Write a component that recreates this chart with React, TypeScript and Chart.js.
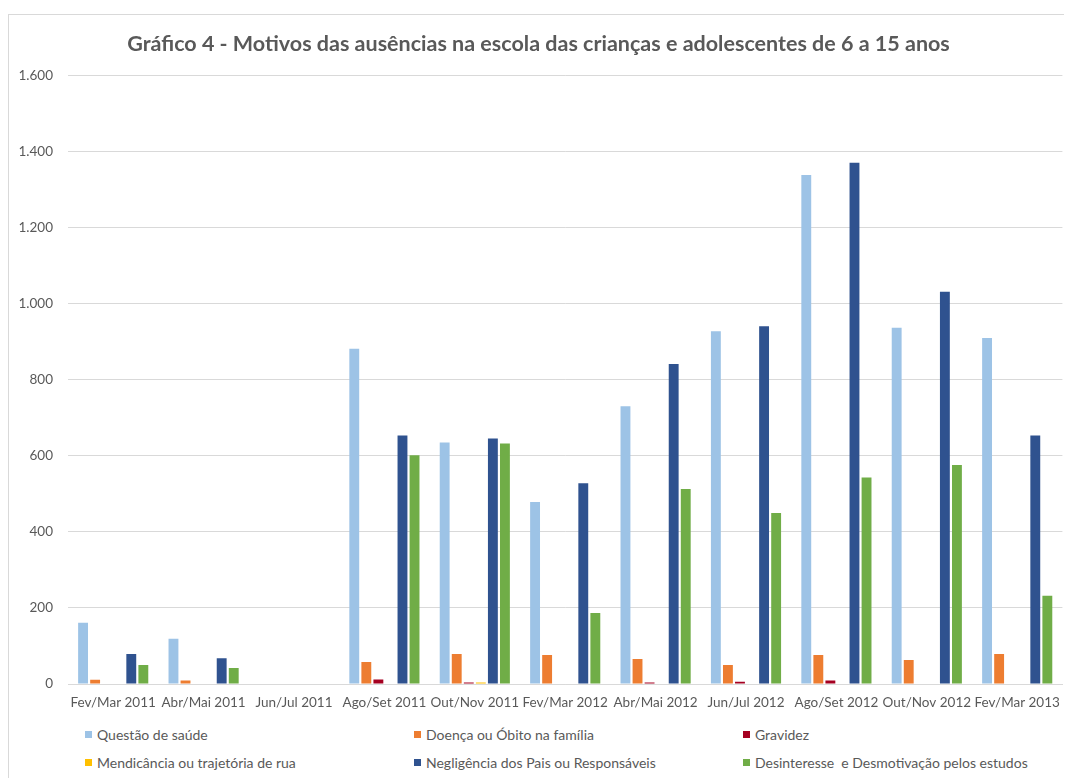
import React, { useEffect, useRef } from "react";
import { Chart, registerables } from "chart.js";

Chart.register(...registerables);

const categories = [
  "Fev/Mar 2011", "Abr/Mai 2011", "Jun/Jul 2011", "Ago/Set 2011", "Out/Nov 2011",
  "Fev/Mar 2012", "Abr/Mai 2012", "Jun/Jul 2012", "Ago/Set 2012", "Out/Nov 2012", "Fev/Mar 2013",
];

const seriesNames = [
  "Questão de saúde",
  "Doença ou Óbito na família",
  "Gravidez",
  "Mendicância ou trajetória de rua",
  "Negligência dos Pais ou Responsáveis",
  "Desinteresse  e Desmotivação pelos estudos",
];

const seriesColors = ["#9DC3E6", "#ED7D31", "#A50021", "#FFC000", "#2F528F", "#70AD47"];

const questaoSaude = [161, 119, 0, 882, 635, 479, 731, 928, 1339, 937, 910];
const doencaObito = [11, 9, 0, 58, 79, 76, 66, 50, 76, 63, 79];
const gravidez = [0, 0, 0, 12, 4, 0, 4, 6, 9, 0, 0];
const mendicancia = [0, 0, 0, 0, 4, 0, 0, 0, 0, 0, 0];
const negligencia = [79, 68, 0, 654, 646, 528, 842, 941, 1371, 1032, 654];
const desinteresse = [50, 42, 0, 602, 633, 187, 513, 450, 543, 576, 232];

const seriesValues = [questaoSaude, doencaObito, gravidez, mendicancia, negligencia, desinteresse];

const yMax = 1600;
const yStep = 200;

const FONT = "Lato, 'Open Sans', sans-serif";
const TEXT = "#595959";

function fmt(v: number): string {
  return String(Math.round(v)).replace(/\B(?=(\d{3})+(?!\d))/g, ".");
}

export default function App() {
  const canvasRef = useRef<HTMLCanvasElement | null>(null);

  useEffect(() => {
    if (!canvasRef.current) return;
    const chart = new Chart(canvasRef.current, {
      type: "bar",
      data: {
        labels: categories,
        datasets: seriesNames.map((name, i) => ({
          label: name,
          data: seriesValues[i],
          backgroundColor: seriesColors[i],
          borderWidth: 0,
          barPercentage: 0.82,
          categoryPercentage: 0.8,
        })),
      },
      options: {
        animation: false,
        responsive: true,
        maintainAspectRatio: false,
        layout: { padding: { left: 0, right: 3, top: 0, bottom: 0 } },
        plugins: {
          legend: { display: false },
          tooltip: { enabled: false },
          title: {
            display: true,
            text: "Gráfico 4 - Motivos das ausências na escola das crianças e adolescentes de 6 a 15 anos",
            color: TEXT,
            font: { family: FONT, size: 21.5, weight: "bold" },
            padding: { top: 16, bottom: 19 },
          },
        },
        scales: {
          x: {
            grid: { display: false, drawTicks: false },
            border: { display: true, color: "#d9d9d9", width: 1 },
            ticks: {
              color: TEXT,
              font: { family: FONT, size: 13.5 },
              autoSkip: false,
              maxRotation: 0,
              minRotation: 0,
              padding: 11,
            },
            afterFit: (scale: any) => {
              scale.height = 36;
            },
          },
          y: {
            min: 0,
            max: yMax,
            grid: { color: "#d9d9d9", drawTicks: false, lineWidth: 1 },
            border: { display: false },
            ticks: {
              stepSize: yStep,
              color: TEXT,
              font: { family: FONT, size: 13.5 },
              padding: 15,
              callback: (v: any) => fmt(Number(v)),
            },
            afterFit: (scale: any) => {
              scale.width = 59;
            },
          },
        },
      },
    });
    return () => chart.destroy();
  }, []);

  const colLeft = [76, 405, 734];

  return (
    <div
      style={{
        position: "relative",
        marginTop: 6,
        width: 1064,
        height: 780,
        boxSizing: "border-box",
        border: "1px solid #d9d9d9",
        background: "#fff",
        fontFamily: FONT,
      }}
    >
      <div style={{ position: "absolute", left: 0, top: 0, width: 1062, height: 705 }}>
        <canvas ref={canvasRef} />
      </div>
      {seriesNames.map((name, i) => {
        const row = Math.floor(i / 3);
        const col = i % 3;
        return (
          <div
            key={name}
            style={{
              position: "absolute",
              left: colLeft[col],
              top: 705 + row * 28,
              height: 28,
              display: "flex",
              alignItems: "center",
              color: TEXT,
              fontSize: 14,
              whiteSpace: "pre",
            }}
          >
            <span
              style={{
                display: "inline-block",
                width: 7,
                height: 7,
                background: seriesColors[i],
                marginRight: 5,
              }}
            />
            <span>{name}</span>
          </div>
        );
      })}
    </div>
  );
}
